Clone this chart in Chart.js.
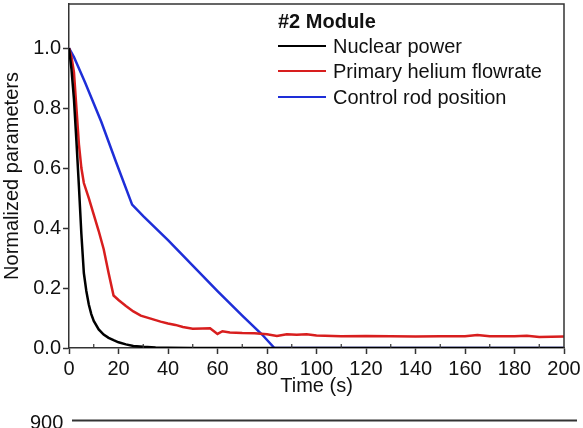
<!DOCTYPE html>
<html>
<head>
<meta charset="utf-8">
<script src="https://cdn.jsdelivr.net/npm/chart.js@4.4.1/dist/chart.umd.min.js"></script>
<style>
html, body { margin: 0; padding: 0; background: #fff; }
</style>
</head>
<body>
<canvas id="chart" width="583" height="428"></canvas>
<script>
// Nuclear power
var powerTime  = [0, 1, 2, 3, 4, 5, 6, 7, 8, 9, 10, 12, 14, 16, 18, 20, 23, 26, 30, 35, 40, 50, 200];
var powerValue = [1.0, 0.93, 0.83, 0.69, 0.54, 0.38, 0.25, 0.19, 0.145, 0.113, 0.09, 0.062, 0.045, 0.034, 0.026, 0.019, 0.012, 0.007, 0.004, 0.002, 0.001, 0, 0];

// Primary helium flowrate
var heliumTime  = [0, 1, 2, 3, 4, 5, 6, 8, 10, 12, 14, 16, 18, 20, 23, 26, 29, 33, 37, 40, 43, 46, 50, 54, 57, 60, 62, 65, 70, 75, 80, 84, 88, 92, 96, 100, 110, 120, 130, 140, 150, 160, 165, 170, 180, 185, 190, 200];
var heliumValue = [1.0, 0.97, 0.92, 0.8, 0.68, 0.6, 0.55, 0.5, 0.445, 0.39, 0.33, 0.25, 0.175, 0.16, 0.14, 0.122, 0.108, 0.098, 0.088, 0.082, 0.077, 0.07, 0.064, 0.065, 0.066, 0.047, 0.056, 0.052, 0.05, 0.049, 0.046, 0.04, 0.046, 0.044, 0.046, 0.042, 0.039, 0.04, 0.039, 0.038, 0.039, 0.039, 0.043, 0.039, 0.039, 0.041, 0.037, 0.038];

// Control rod position
var rodTime  = [0, 2, 6.5, 13, 19, 25.5, 30, 40, 50, 60, 70, 78, 83, 200];
var rodValue = [1.0, 0.97, 0.885, 0.755, 0.62, 0.478, 0.44, 0.36, 0.275, 0.19, 0.108, 0.045, 0, 0];

var xTicks = [0, 20, 40, 60, 80, 100, 120, 140, 160, 180, 200];
var yTicks = [0.0, 0.2, 0.4, 0.6, 0.8, 1.0];

var legendTitle = '#2 Module';
var seriesNames = ['Nuclear power', 'Primary helium flowrate', 'Control rod position'];
var seriesColors = ['#000000', '#d81e1e', '#1e2ed8'];

function pairs(xs, ys) {
    return xs.map(function(x, i) { return { x: x, y: ys[i] }; });
}

Chart.defaults.font.family = '"Liberation Sans", Arial, sans-serif';
Chart.defaults.color = '#111';

var framePlugin = {
    id: 'frame',
    afterDraw: function(chart) {
        var ctx = chart.ctx;
        var a = chart.chartArea;
        ctx.save();
        ctx.strokeStyle = '#333';
        ctx.lineWidth = 1.5;
        ctx.beginPath();
        ctx.moveTo(a.left, a.top);
        ctx.lineTo(a.right, a.top);
        ctx.lineTo(a.right, a.bottom);
        ctx.stroke();

        // minor x ticks
        var xs = chart.scales.x;
        ctx.lineWidth = 1.2;
        for (var v = 10; v < 200; v += 20) {
            var px = xs.getPixelForValue(v);
            ctx.beginPath();
            ctx.moveTo(px, a.bottom);
            ctx.lineTo(px, a.bottom - 4);
            ctx.stroke();
        }

        // legend inside plot
        ctx.fillStyle = '#111';
        ctx.font = 'bold 20px "Liberation Sans", Arial, sans-serif';
        ctx.textBaseline = 'alphabetic';
        ctx.fillText(legendTitle, 278, 28);
        ctx.font = '20px "Liberation Sans", Arial, sans-serif';
        ctx.textBaseline = 'middle';
        var rows = [46, 71, 97];
        chart.data.datasets.forEach(function(ds, i) {
            ctx.strokeStyle = ds.borderColor;
            ctx.lineWidth = 2;
            ctx.beginPath();
            ctx.moveTo(278, rows[i]);
            ctx.lineTo(326, rows[i]);
            ctx.stroke();
            ctx.fillText(ds.label, 333, rows[i] + 1);
        });

        // top of the next panel, cut off
        ctx.strokeStyle = '#333';
        ctx.lineWidth = 2;
        ctx.beginPath();
        ctx.moveTo(72, 420.5);
        ctx.lineTo(577, 420.5);
        ctx.stroke();
        ctx.textBaseline = 'alphabetic';
        ctx.fillText('900', 30, 429);
        ctx.restore();
    }
};

var ctx = document.getElementById('chart').getContext('2d');
var chart = new Chart(ctx, {
    type: 'line',
    data: {
        datasets: [{
            label: seriesNames[0],
            data: pairs(powerTime, powerValue),
            borderColor: seriesColors[0],
            borderWidth: 2.5,
            pointRadius: 0,
            tension: 0
        }, {
            label: seriesNames[1],
            data: pairs(heliumTime, heliumValue),
            borderColor: seriesColors[1],
            borderWidth: 2.5,
            pointRadius: 0,
            tension: 0
        }, {
            label: seriesNames[2],
            data: pairs(rodTime, rodValue),
            borderColor: seriesColors[2],
            borderWidth: 2.5,
            pointRadius: 0,
            tension: 0
        }]
    },
    options: {
        responsive: false,
        animation: false,
        layout: { padding: { left: 0, right: 19, top: 4, bottom: 30 } },
        plugins: {
            legend: { display: false },
            tooltip: { enabled: false }
        },
        scales: {
            x: {
                type: 'linear',
                min: 0,
                max: 200,
                afterBuildTicks: function(s) {
                    s.ticks = xTicks.map(function(v) { return { value: v }; });
                },
                ticks: { font: { size: 20 }, color: '#111', padding: 3, maxRotation: 0 },
                grid: { drawOnChartArea: false, tickLength: 6, tickColor: '#333', tickWidth: 1.5 },
                border: { color: '#333', width: 1.5 },
                title: { display: true, text: 'Time (s)', font: { size: 20 }, color: '#111', padding: 0 },
                afterFit: function(s) { s.height = 50; s.paddingLeft = 0; s.paddingRight = 0; }
            },
            y: {
                type: 'linear',
                min: 0,
                max: 1.147,
                afterBuildTicks: function(s) {
                    s.ticks = yTicks.map(function(v) { return { value: v }; });
                },
                ticks: {
                    font: { size: 20 },
                    color: '#111',
                    padding: 2,
                    callback: function(v) { return v.toFixed(1); }
                },
                grid: { drawOnChartArea: false, tickLength: 6, tickColor: '#333', tickWidth: 1.5 },
                border: { color: '#333', width: 1.5 },
                title: { display: true, text: 'Normalized parameters', font: { size: 20 }, color: '#111', padding: 0 },
                afterFit: function(s) { s.width = 69; s.paddingTop = 0; s.paddingBottom = 0; }
            }
        }
    },
    plugins: [framePlugin]
});
</script>
</body>
</html>
